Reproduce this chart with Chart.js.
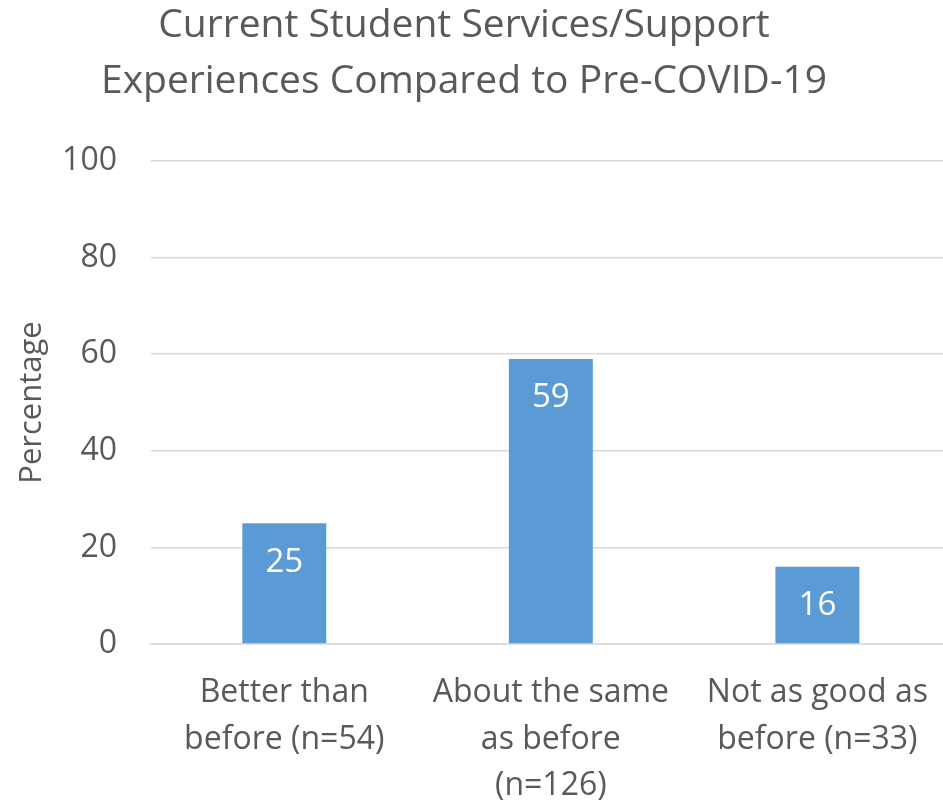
<!DOCTYPE html>
<html>
<head>
<meta charset="utf-8">
<script src="https://cdn.jsdelivr.net/npm/chart.js@4/dist/chart.umd.min.js"></script>
<style>
  html, body { margin: 0; padding: 0; background: #fff; overflow: hidden; }
  #wrap { width: 954px; height: 802px; }
</style>
</head>
<body>
<div id="wrap"><canvas id="chart"></canvas></div>
<script>
const titleLines = ["Current Student Services/Support", "Experiences Compared to Pre-COVID-19"];
const categories = [
  ["Better than", "before (n=54)"],
  ["About the same", "as before", "(n=126)"],
  ["Not as good as", "before (n=33)"]
];
const percentages = [25, 59, 16];
const yTicks = [0, 20, 40, 60, 80, 100];

const textColor = "#595959";
const fontFamily = "'Open Sans', 'Noto Sans', sans-serif";

// title drawn by hand so it can sit a little left of the canvas centre, like the original
const chartTitle = {
  id: "chartTitle",
  afterDraw(chart) {
    const ctx = chart.ctx;
    ctx.save();
    ctx.fillStyle = textColor;
    ctx.font = "39px " + fontFamily;
    ctx.textAlign = "center";
    ctx.textBaseline = "middle";
    titleLines.forEach((line, i) => ctx.fillText(line, 464, 26 + i * 56));
    ctx.restore();
  }
};

// white value labels just under the top of each bar
const barLabels = {
  id: "barLabels",
  afterDatasetsDraw(chart) {
    const ctx = chart.ctx;
    const meta = chart.getDatasetMeta(0);
    ctx.save();
    ctx.fillStyle = "#ffffff";
    ctx.font = "33px " + fontFamily;
    ctx.textAlign = "center";
    ctx.textBaseline = "middle";
    meta.data.forEach((bar, i) => {
      ctx.fillText(String(percentages[i]), bar.x, bar.y + 39);
    });
    ctx.restore();
  }
};

new Chart(document.getElementById("chart"), {
  type: "bar",
  data: {
    labels: categories,
    datasets: [{
      data: percentages,
      backgroundColor: "#5B9BD5",
      barPercentage: 0.315,
      categoryPercentage: 1
    }]
  },
  options: {
    responsive: true,
    maintainAspectRatio: false,
    animation: false,
    layout: { padding: { left: 10, right: 0, top: 161, bottom: 0 } },
    plugins: {
      legend: { display: false },
      tooltip: { enabled: false },
      title: { display: false }
    },
    scales: {
      y: {
        min: 0,
        max: 100,
        afterBuildTicks(axis) {
          axis.ticks = yTicks.map(v => ({ value: v }));
        },
        afterFit(axis) { axis.width = 141; },
        grid: { color: "#D9D9D9", lineWidth: 1.5, drawTicks: false },
        border: { display: false },
        ticks: {
          color: textColor,
          font: { family: fontFamily, size: 32 },
          padding: 34
        },
        title: {
          display: true,
          text: "Percentage",
          color: textColor,
          font: { family: fontFamily, size: 31 },
          padding: { top: 4, bottom: 4 }
        }
      },
      x: {
        afterFit(axis) { axis.height = 158; },
        grid: { display: false, drawTicks: false },
        border: { color: "#D9D9D9", width: 1.5 },
        ticks: {
          color: textColor,
          font: { family: fontFamily, size: 32, lineHeight: 1.45 },
          padding: 26,
          maxRotation: 0,
          autoSkip: false
        }
      }
    }
  },
  plugins: [barLabels, chartTitle]
});
</script>
</body>
</html>
